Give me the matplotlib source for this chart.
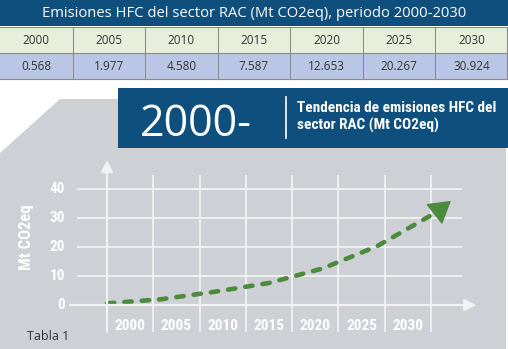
import matplotlib
matplotlib.use("Agg")
import matplotlib.pyplot as plt
from matplotlib import font_manager
from matplotlib.patches import Rectangle, Polygon

# ---------------- data ----------------
years = [2000, 2005, 2010, 2015, 2020, 2025, 2030]
values = [0.568, 1.977, 4.580, 7.587, 12.653, 20.267, 30.924]
y_ticks = [0, 10, 20, 30, 40]
title_table = "Emisiones HFC del sector RAC (Mt CO2eq), periodo 2000-2030"
big_label = "2000-"
box_title = "Tendencia de emisiones HFC del\nsector RAC (Mt CO2eq)"
y_label = "Mt CO2eq"
caption = "Tabla 1"

# ---------------- fonts ----------------
names = {f.name for f in font_manager.fontManager.ttflist}
cond = next((n for n in ["Roboto Condensed", "Liberation Sans Narrow", "Open Sans Condensed"]
             if n in names), "Roboto")
reg = "Open Sans" if "Open Sans" in names else "DejaVu Sans"

W, H = 508, 349
fig = plt.figure(figsize=(W / 100, H / 100), dpi=100)
fig.patch.set_facecolor("white")

# background axes in pixel coordinates
bg = fig.add_axes([0, 0, 1, 1])
bg.set_xlim(0, W)
bg.set_ylim(H, 0)
bg.axis("off")

BLUE = "#0f4f7d"
GREEN_ROW = "#e7efda"
BLUE_ROW = "#b9c6e5"
GRAY = "#cdd0d4"
LINEC = "#8c8c8c"

# table header
bg.add_patch(Rectangle((0, 0), W, 26, color=BLUE, lw=0))
bg.text(W / 2, 13.5, title_table, color="white", fontsize=10.6, family=reg,
        ha="center", va="center")
ncol = len(years)
cw = W / ncol
bg.add_patch(Rectangle((0, 26.5), W, 26, color=GREEN_ROW, lw=0))
bg.add_patch(Rectangle((0, 52.5), W, 26, color=BLUE_ROW, lw=0))
for yy in [26.5, 52.5, 78.5]:
    bg.plot([0, W], [yy, yy], color=LINEC, lw=0.8)
for i in range(1, ncol):
    bg.plot([i * cw, i * cw], [26.5, 78.5], color=LINEC, lw=0.8)
bg.plot([W - 1, W - 1], [26.5, 78.5], color=LINEC, lw=0.8)
for i, (yr, v) in enumerate(zip(years, values)):
    bg.text((i + 0.5) * cw, 40, str(yr), ha="center", va="center",
            fontsize=8.5, family=reg, color="#333333")
    bg.text((i + 0.5) * cw, 66, f"{v:.3f}", ha="center", va="center",
            fontsize=8.5, family=reg, color="#333333")

# gray panel with chamfered corner
bg.add_patch(Polygon([(60, 99), (506, 99), (506, H), (0, H), (0, 153)],
                     closed=True, color=GRAY, lw=0))
# blue title box
bg.add_patch(Rectangle((118, 88), W - 118, 60, color=BLUE, lw=0))
bg.text(140, 136, big_label, color="white", fontsize=31, family=reg,
        ha="left", va="baseline")
bg.plot([286, 286], [97, 138], color="white", lw=1.2)
bg.text(297, 117, box_title, color="white", fontsize=11, family=cond,
        weight="bold", ha="left", va="center", linespacing=1.3)
bg.text(27, 337, caption, color="#333333", fontsize=9, family=reg,
        ha="left", va="center")

# ---------------- chart axes ----------------
x0px, ux = 107.0, 46.29    # pixel of cell 0, pixels per cell
y0px, uy = 305.0, 2.9      # pixel of value 0, pixels per unit
L, R, T, B = 10, 505, 150, 347
ax = fig.add_axes([L / W, 1 - B / H, (R - L) / W, (B - T) / H])
ax.set_xlim((L - x0px) / ux, (R - x0px) / ux)
ax.set_ylim((y0px - B) / uy, (y0px - T) / uy)
ax.axis("off")
ax.patch.set_alpha(0)

GRID = "#f2f2f2"
LBL = dict(color="white", fontsize=11, family=cond, weight="bold")
# horizontal grid lines
for t in y_ticks[1:]:
    ax.plot([-0.65, 7.67], [t, t], color=GRID, lw=1.3, solid_capstyle="butt")
for t in y_ticks:
    ax.text(-0.9, t, str(t), ha="right", va="center", **LBL)
# x axis with arrow
ax.annotate("", xy=(7.98, 0), xytext=(-0.8, 0),
            arrowprops=dict(arrowstyle="-|>,head_length=0.7,head_width=0.35",
                            color=GRID, lw=1.6, shrinkA=0, shrinkB=0))
# vertical grid lines
for i in range(1, ncol + 1):
    ax.plot([i, i], [-9.3, 44.8], color=GRID, lw=1.3, solid_capstyle="butt")
# y axis with arrow
ax.annotate("", xy=(0, 50), xytext=(0, -9.3),
            arrowprops=dict(arrowstyle="-|>,head_length=0.7,head_width=0.35",
                            color=GRID, lw=1.6, shrinkA=0, shrinkB=0))
# year labels in cells
for i, yr in enumerate(years):
    ax.text(i + 0.5, -7.3, str(yr), ha="center", va="center", **LBL)
ax.text((27 - x0px) / ux, (y0px - 237) / uy, y_label, rotation=90,
        ha="center", va="center", **dict(LBL, fontsize=12))

# dashed trend line
GREEN = "#4c8a3d"
xs = [(y - years[0]) / (years[-1] - years[0]) * (ncol) for y in years]
ax.plot(xs, values, color=GREEN, lw=3.3, dashes=(1.6, 2.2),
        dash_capstyle="round")
ax.annotate("", xy=(7.43, 35.9), xytext=(7.2, 33.0),
            arrowprops=dict(arrowstyle="-|>,head_length=1.0,head_width=0.6",
                            color=GREEN, lw=1, shrinkA=0, shrinkB=0,
                            mutation_scale=14))

fig.savefig("out.png", dpi=100, facecolor="white")
